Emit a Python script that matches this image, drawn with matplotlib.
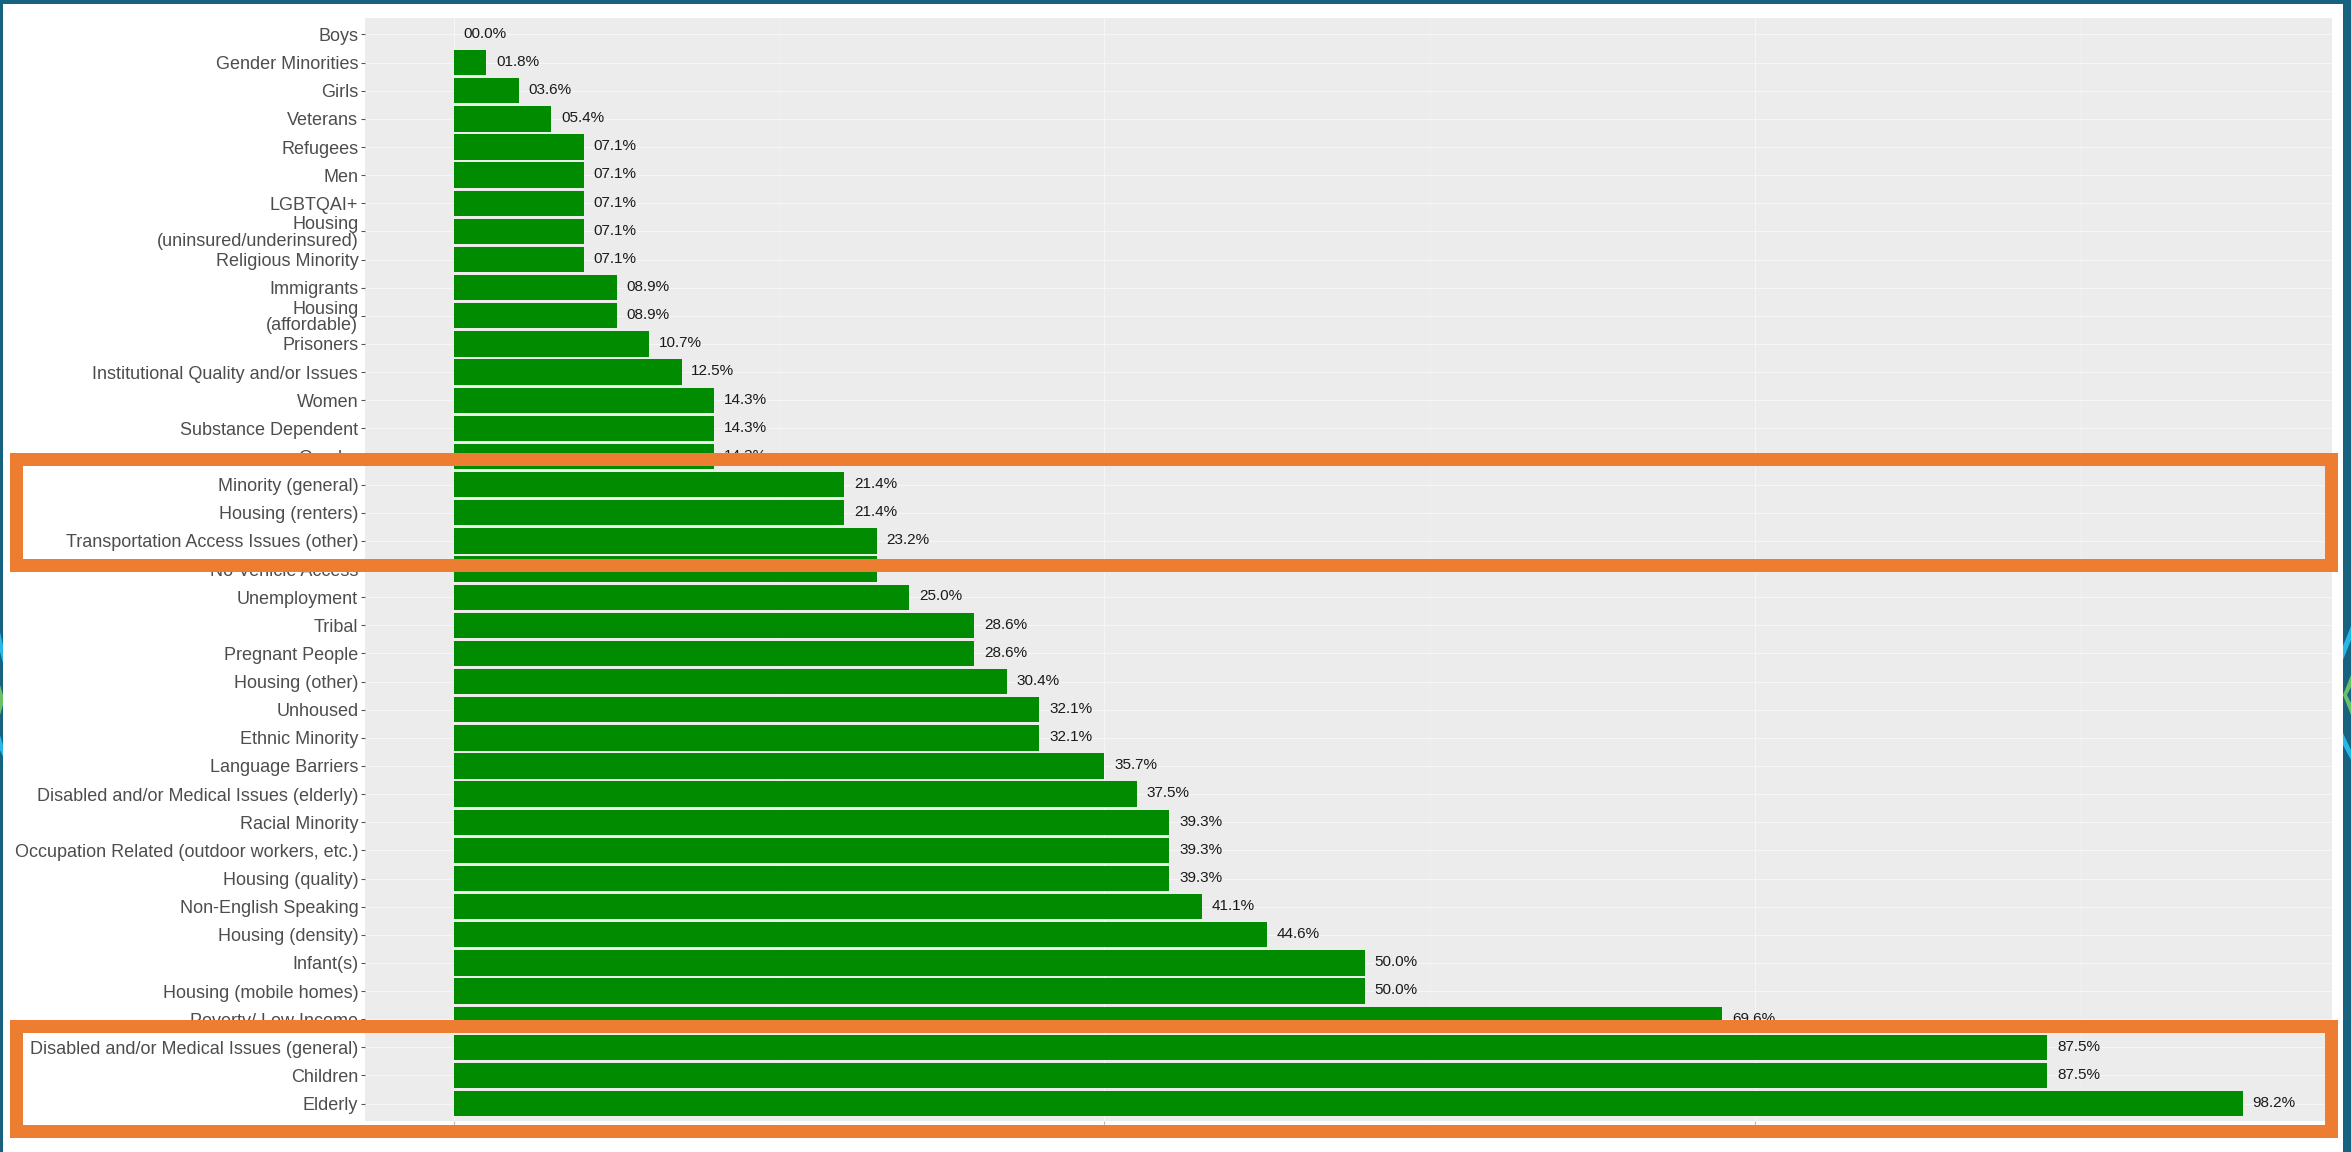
import numpy as np
import matplotlib
matplotlib.use("Agg")
import matplotlib.pyplot as plt
from matplotlib.patches import Rectangle, Polygon

plt.rcParams['font.family'] = ['Liberation Sans', 'DejaVu Sans']

W, H = 2351, 1152
TOTAL = 56

# categories top to bottom, counts out of TOTAL respondents
categories = [
    "Boys", "Gender Minorities", "Girls", "Veterans", "Refugees", "Men",
    "LGBTQAI+", "Housing\n(uninsured/underinsured)", "Religious Minority",
    "Immigrants", "Housing\n(affordable)", "Prisoners",
    "Institutional Quality and/or Issues", "Women", "Substance Dependent",
    "Gender", "Minority (general)", "Housing (renters)",
    "Transportation Access Issues (other)", "No Vehicle Access",
    "Unemployment", "Tribal", "Pregnant People", "Housing (other)",
    "Unhoused", "Ethnic Minority", "Language Barriers",
    "Disabled and/or Medical Issues (elderly)", "Racial Minority",
    "Occupation Related (outdoor workers, etc.)", "Housing (quality)",
    "Non-English Speaking", "Housing (density)", "Infant(s)",
    "Housing (mobile homes)", "Poverty/ Low Income",
    "Disabled and/or Medical Issues (general)", "Children", "Elderly",
]
counts = [0, 1, 2, 3, 4, 4, 4, 4, 4, 5, 5, 6, 7, 8, 8, 8, 12, 12, 13, 13,
          14, 16, 16, 17, 18, 18, 20, 21, 22, 22, 22, 23, 25, 28, 28, 39,
          49, 49, 55]
x_ticks = [0, 20, 40]

TEAL = '#17627F'
ORANGE = '#ED7D31'
GREEN = '#008B00'


def fx(x):
    return x / W


def fy(y):
    return 1 - y / H


fig = plt.figure(figsize=(W / 100, H / 100), dpi=100)
fig.patch.set_facecolor(TEAL)

# white slide area inside teal frame (behind the axes)
fig.patches.append(Rectangle((fx(3), 0), fx(2343 - 3), 1 - 4 / H,
                             transform=fig.transFigure, facecolor='white',
                             edgecolor='none', zorder=-10))

# little chevron bits on the frame edges
for pts, col in [
    ([(2351, 626), (2351, 640), (2343, 660), (2343, 646)], '#29B6E8'),
    ([(2351, 675), (2343, 695), (2351, 715), (2351, 703), (2347, 695), (2351, 687)], '#6CC06A'),
    ([(2343, 733), (2351, 750), (2351, 760), (2343, 745)], '#29B6E8'),
    ([(0, 632), (3, 645), (3, 663), (0, 652)], '#29B6E8'),
    ([(0, 685), (3, 695), (3, 705), (0, 715)], '#6CC06A'),
    ([(0, 735), (3, 745), (3, 757), (0, 750)], '#29B6E8'),
]:
    fig.patches.append(Polygon([(fx(a), fy(b)) for a, b in pts], closed=True,
                               transform=fig.transFigure, facecolor=col,
                               edgecolor='none', zorder=-5))

left, right, top, bottom = 364.5, 2332, 17.6, 1120.5
ax = fig.add_axes([fx(left), 1 - bottom / H, fx(right - left), (bottom - top) / H])
ax.set_facecolor('#ECECEC')
for s in ax.spines.values():
    s.set_visible(False)

n = len(categories)
y = np.arange(n, 0, -1)
ax.barh(y, counts, height=0.9, color=GREEN, zorder=2)

for yi, c in zip(y, counts):
    ax.annotate(f"{c / TOTAL * 100:04.1f}%", (c, yi), xytext=(7, 0.5),
                textcoords='offset points', ha='left', va='center',
                fontsize=11, color='#1A1A1A', zorder=3)

ax.set_xlim(-2.75, 57.75)
ax.set_ylim(0.4, n + 0.6)
ax.set_yticks(y)
ax.set_yticklabels(categories, fontsize=13, color='#4D4D4D', linespacing=0.95)
ax.set_xticks(x_ticks)
ax.set_xticklabels([str(t) for t in x_ticks], fontsize=6, color='#E4E4E4')
ax.set_xticks([10, 30, 50], minor=True)
ax.tick_params(axis='y', length=3, width=0.8, color='#555555', pad=1.5)
ax.tick_params(axis='x', length=3, width=0.8, color='#BBBBBB', pad=1)
ax.tick_params(axis='x', which='minor', length=0)
ax.set_axisbelow(True)
ax.grid(True, which='major', color='#F6F6F6', linewidth=0.8)
ax.grid(True, which='minor', axis='x', color='#F3F3F3', linewidth=0.4)

# orange highlight boxes (pixel coords of stroke centre)
for x0, y0, x1, y1 in [(15.5, 459.5, 2330.5, 564.5), (15.5, 1025.5, 2330.5, 1130.5)]:
    fig.patches.append(Rectangle((fx(x0), fy(y1)), fx(x1 - x0), (y1 - y0) / H,
                                 transform=fig.transFigure, facecolor='none',
                                 edgecolor=ORANGE, linewidth=13 * 0.72,
                                 joinstyle='miter', zorder=5))

fig.savefig("out.png", dpi=100, facecolor=fig.get_facecolor())
